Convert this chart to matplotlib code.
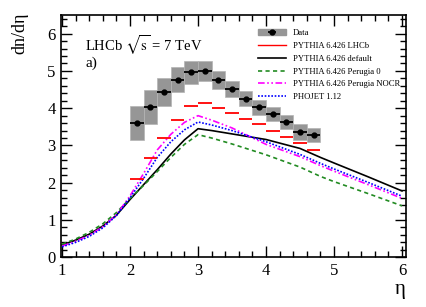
import matplotlib
matplotlib.use("Agg")
import matplotlib.pyplot as plt
import numpy as np
from matplotlib.patches import Patch
from matplotlib.legend_handler import HandlerTuple

plt.rcParams["font.family"] = ["Liberation Serif", "DejaVu Serif"]
plt.rcParams["mathtext.fontset"] = "stix"

# ── data: LHCb measurement (bins 2.0-4.8, width 0.2) ─────────────────
eta_bins = [2.1, 2.3, 2.5, 2.7, 2.9, 3.1, 3.3, 3.5, 3.7, 3.9, 4.1, 4.3, 4.5, 4.7]
data_val = [3.60, 4.03, 4.44, 4.77, 4.96, 5.00, 4.75, 4.51, 4.26, 4.02, 3.85, 3.62, 3.37, 3.28]
data_sys = [0.46, 0.46, 0.38, 0.34, 0.30, 0.28, 0.24, 0.21, 0.19, 0.19, 0.19, 0.19, 0.21, 0.18]
lhcb_tune = [2.09, 2.66, 3.20, 3.68, 4.07, 4.15, 4.01, 3.87, 3.72, 3.57, 3.40, 3.23, 3.06, 2.87]

# ── generator curves ────────────────────────────────────────────────
eta_gen = [1.0, 1.2, 1.4, 1.6, 1.8, 2.0, 2.2, 2.4, 2.6, 2.8, 3.0, 3.2, 3.5, 4.0, 4.5, 4.8, 5.0, 5.5, 6.0]
py_default = [0.33, 0.46, 0.62, 0.84, 1.13, 1.55, 1.95, 2.35, 2.77, 3.15, 3.45, 3.40, 3.31, 3.16, 2.92, 2.68, 2.53, 2.16, 1.78]
py_perugia0 = [0.35, 0.49, 0.67, 0.90, 1.20, 1.58, 1.93, 2.30, 2.68, 3.03, 3.29, 3.20, 3.04, 2.75, 2.42, 2.17, 2.03, 1.71, 1.38]
py_nocr = [0.30, 0.43, 0.59, 0.82, 1.14, 1.65, 2.25, 2.88, 3.30, 3.62, 3.80, 3.68, 3.47, 3.03, 2.70, 2.46, 2.31, 1.95, 1.58]
phojet = [0.28, 0.40, 0.56, 0.79, 1.12, 1.60, 2.12, 2.68, 3.10, 3.42, 3.63, 3.55, 3.40, 3.10, 2.76, 2.52, 2.37, 2.01, 1.64]

fig = plt.figure(figsize=(4.27, 3.07), dpi=100, facecolor="white")
ax = fig.add_axes([0.143, 0.162, 0.808, 0.789])

eta = np.asarray(eta_bins)
val = np.asarray(data_val)
sys = np.asarray(data_sys)

# systematic boxes
ax.bar(eta, 2 * sys, bottom=val - sys, width=0.2, color="#969696",
       edgecolor="#b4b4b4", linewidth=0.5, zorder=2)
eb = ax.errorbar(eta, val, xerr=0.1, fmt="o", color="black", ms=3.5,
                 elinewidth=1.3, capsize=0, zorder=5)

# PYTHIA LHCb tune: horizontal bars per bin
ax.hlines(lhcb_tune, eta - 0.1, eta + 0.1, color="#ff0000", lw=1.3, zorder=4)
l_lhcb, = ax.plot([], [], color="#ff0000", lw=1.0)

l_def, = ax.plot(eta_gen, py_default, color="black", lw=1.2, zorder=3)
l_p0, = ax.plot(eta_gen, py_perugia0, color="#228b22", lw=1.2,
                linestyle=(0, (2.5, 2)), zorder=3)
l_nocr, = ax.plot(eta_gen, py_nocr, color="#ff00ff", lw=1.2,
                  linestyle=(0, (4, 1.5, 1, 1.5, 1, 1.5)), zorder=3)
l_pho, = ax.plot(eta_gen, phojet, color="#0000ff", lw=1.2,
                 linestyle=(0, (1, 1)), zorder=3)

ax.set_xlim(0.985, 6.06)
ax.set_ylim(0, 6.5)
ax.set_xticks([1, 2, 3, 4, 5, 6])
ax.set_yticks([0, 1, 2, 3, 4, 5, 6])
ax.set_xticks(np.arange(1.0, 6.01, 0.2), minor=True)
ax.set_yticks(np.arange(0, 6.5, 0.2), minor=True)
ax.tick_params(which="both", direction="in", top=True, right=True,
               labelsize=12, width=1.0, pad=4)
ax.tick_params(which="major", length=8)
ax.tick_params(which="minor", length=4)
for s in ax.spines.values():
    s.set_linewidth(1.2)

ax.set_ylabel("dn/dη", fontsize=13)
ax.yaxis.set_label_coords(-0.095, 0.925)
ax.text(1.0, -0.095, "η", transform=ax.transAxes, ha="right", va="top",
        fontsize=15)

ax.text(0.07, 0.875, r"LHCb $\sqrt{\mathrm{s}}$ = 7 TeV", transform=ax.transAxes,
        fontsize=10.5, va="center")
ax.text(0.07, 0.80, "a)", transform=ax.transAxes, fontsize=11, va="center")

data_patch = Patch(facecolor="#969696", edgecolor="#969696")
handles = [(data_patch, eb), l_lhcb, l_def, l_p0, l_nocr, l_pho]
labels = ["Data", "PYTHIA 6.426 LHCb", "PYTHIA 6.426 default",
          "PYTHIA 6.426 Perugia 0", "PYTHIA 6.426 Perugia NOCR", "PHOJET 1.12"]
ax.legend(handles, labels, loc="upper left", bbox_to_anchor=(0.56, 0.955),
          frameon=False, fontsize=6.2, handlelength=3.3, handletextpad=0.8,
          labelspacing=0.55, borderaxespad=0,
          handler_map={tuple: HandlerTuple(ndivide=1)})

fig.savefig("out.png", dpi=100)
